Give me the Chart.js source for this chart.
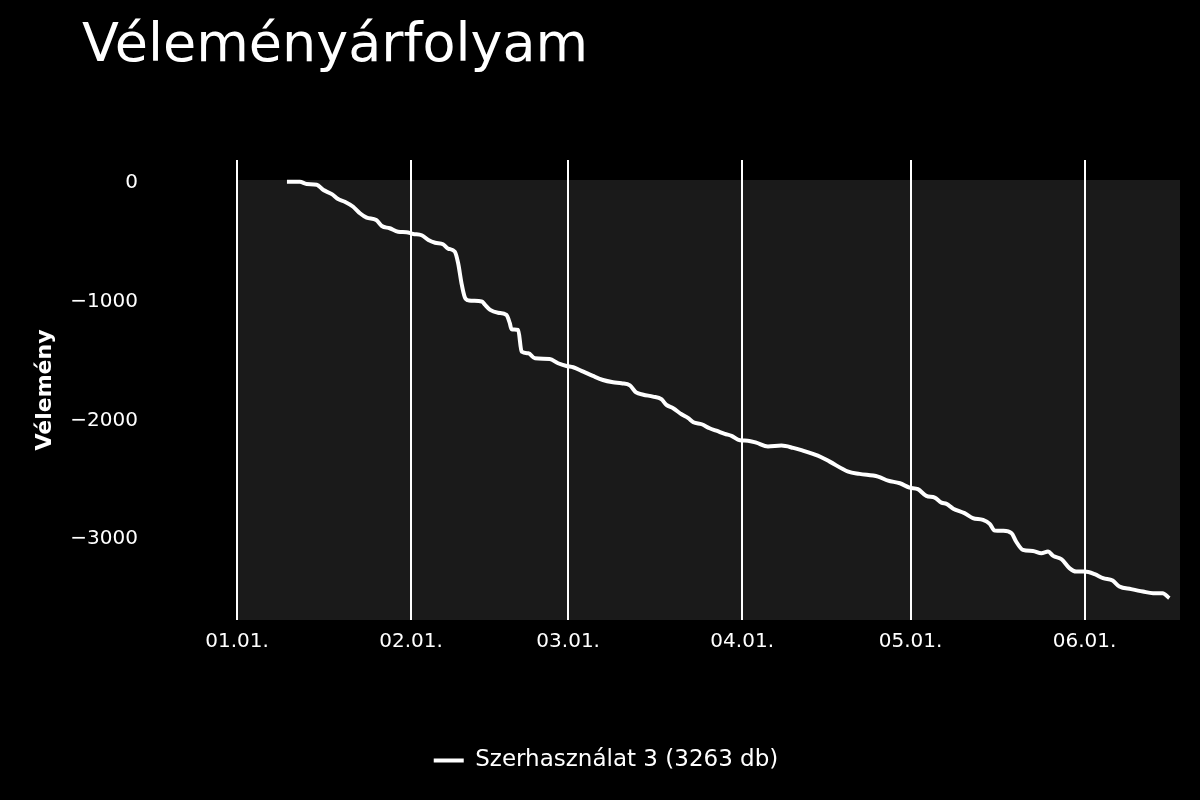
<!DOCTYPE html>
<html lang="hu">
<head>
<meta charset="utf-8">
<title>Véleményárfolyam</title>
<script src="https://cdn.jsdelivr.net/npm/chart.js@4/dist/chart.umd.min.js"></script>
<style>
  html, body { margin: 0; padding: 0; background: #000; }
  #wrap { width: 1200px; height: 800px; }
</style>
</head>
<body>
<div id="wrap"><canvas id="chart" width="1200" height="800"></canvas></div>
<script>
// Véleményárfolyam — cumulative opinion score, days counted from 01.01.

const TITLE = 'Véleményárfolyam';
const SERIES_LABEL = 'Szerhasználat 3 (3263 db)';
const Y_TITLE = 'Vélemény';

// x: days since 01.01., y: cumulative score
const DAYS = [
  8.9, 11.2, 12.4, 14.2, 15.4, 16.9, 18.0, 19.2, 20.7, 21.9,
  23.1, 24.8, 25.8, 27.2, 28.7, 30.2, 31.4, 32.9, 34.1, 35.3,
  36.7, 37.6, 38.8, 39.4, 40.0, 40.6, 41.3, 43.6, 44.2, 45.1,
  46.5, 48.0, 48.6, 48.9, 50.1, 50.7, 51.9, 53.1, 55.7, 57.2,
  58.7, 59.9, 61.7, 63.4, 65.2, 67.0, 68.5, 70.0, 71.1, 72.4,
  74.1, 75.6, 76.5, 77.7, 79.2, 80.4, 81.3, 82.8, 84.2, 85.4,
  86.9, 88.1, 89.6, 91.0, 92.5, 94.6, 97.0, 99.1, 100.8, 102.6,
  104.1, 105.6, 108.9, 110.9, 114.2, 116.0, 118.1, 119.8, 121.3, 122.8,
  124.3, 125.5, 126.4, 127.6, 129.6, 131.1, 132.9, 134.1, 135.0, 136.5,
  138.0, 138.8, 140.0, 141.8, 143.3, 144.5, 145.4, 146.9, 148.3, 149.5,
  151.0, 152.8, 154.3, 156.0, 157.2, 159.3, 161.4, 163.2, 164.9, 166.1
];
const VALUES = [
  10, 10, -8, -14, -59, -93, -135, -157, -200, -255,
  -292, -312, -362, -381, -410, -415, -429, -440, -480, -503,
  -516, -552, -578, -676, -845, -964, -989, -998, -1027, -1069,
  -1092, -1111, -1181, -1232, -1238, -1421, -1434, -1476, -1482, -1518,
  -1541, -1552, -1589, -1625, -1659, -1678, -1687, -1705, -1764, -1783,
  -1799, -1821, -1869, -1897, -1948, -1981, -2015, -2032, -2066, -2086,
  -2113, -2130, -2167, -2170, -2187, -2220, -2212, -2231, -2254, -2282,
  -2310, -2347, -2431, -2450, -2473, -2507, -2529, -2566, -2579, -2636,
  -2650, -2692, -2703, -2743, -2781, -2823, -2838, -2871, -2928, -2930,
  -2950, -3020, -3090, -3099, -3118, -3105, -3141, -3169, -3244, -3273,
  -3273, -3295, -3329, -3349, -3399, -3421, -3441, -3455, -3455, -3497
];

// month starts (day offsets) and their labels
const TICK_DAYS = [0, 31, 59, 90, 120, 151];
const TICK_LABELS = ['01.01.', '02.01.', '03.01.', '04.01.', '05.01.', '06.01.'];
const Y_TICKS = [0, -1000, -2000, -3000];

const FONT = '"DejaVu Sans", Verdana, sans-serif';

const backdrop = {
  id: 'backdrop',
  beforeDraw(chart) {
    const { ctx, chartArea: a } = chart;
    ctx.save();
    ctx.fillStyle = '#000';
    ctx.fillRect(0, 0, chart.width, chart.height);
    ctx.fillStyle = '#1a1a1a';
    ctx.fillRect(a.left, a.top + 20, a.right - a.left, a.bottom - a.top - 20);
    ctx.restore();
  },
  afterDraw(chart) {
    const ctx = chart.ctx;
    ctx.save();
    ctx.fillStyle = '#fff';
    ctx.font = '54px ' + FONT;
    ctx.textBaseline = 'alphabetic';
    ctx.textAlign = 'left';
    ctx.fillText(TITLE, 82, 61);
    ctx.restore();
  }
};

new Chart(document.getElementById('chart'), {
  type: 'line',
  data: {
    datasets: [{
      label: SERIES_LABEL,
      data: DAYS.map((d, i) => ({ x: d, y: VALUES[i] })),
      borderColor: '#fff',
      backgroundColor: '#fff',
      borderWidth: 4,
      pointRadius: 0,
      fill: false,
      cubicInterpolationMode: 'monotone'
    }]
  },
  options: {
    responsive: false,
    animation: false,
    layout: { padding: { top: 160, right: 20, bottom: 18, left: 32 } },
    plugins: {
      tooltip: { enabled: false },
      title: { display: false },
      legend: {
        position: 'bottom',
        labels: {
          color: '#fff',
          font: { family: FONT, size: 23 },
          boxWidth: 30,
          boxHeight: 0,
          padding: 10
        }
      }
    },
    scales: {
      x: {
        type: 'linear',
        min: 0,
        max: 168,
        border: { display: false },
        grid: { color: '#fff', lineWidth: 2, drawTicks: false },
        afterBuildTicks: s => { s.ticks = TICK_DAYS.map(v => ({ value: v })); },
        afterFit: s => { s.height = 119; },
        ticks: {
          color: '#fff',
          font: { family: FONT, size: 20 },
          padding: 10,
          autoSkip: false,
          maxRotation: 0,
          callback: (v, i) => TICK_LABELS[i]
        }
      },
      y: {
        min: -3681,
        max: 194,
        border: { display: false },
        grid: { display: false, drawTicks: false },
        afterBuildTicks: s => { s.ticks = Y_TICKS.map(v => ({ value: v })); },
        afterFit: s => { s.width = 205; },
        ticks: {
          color: '#fff',
          font: { family: FONT, size: 20 },
          padding: 99,
          callback: v => String(v).replace('-', '\u2212')
        },
        title: {
          display: true,
          text: Y_TITLE,
          color: '#fff',
          font: { family: FONT, size: 22, weight: 'bold' },
          padding: { top: 0, bottom: 0 }
        }
      }
    }
  },
  plugins: [backdrop]
});
</script>
</body>
</html>
